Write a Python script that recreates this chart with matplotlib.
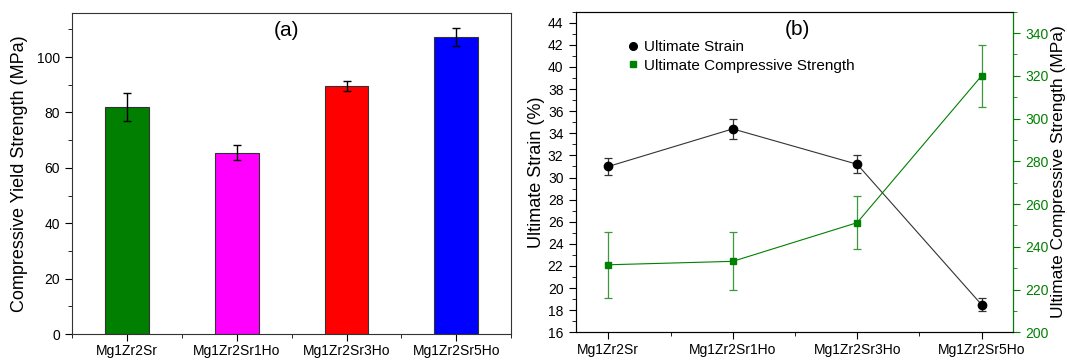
import numpy as np
import matplotlib.pyplot as plt
from matplotlib.ticker import MultipleLocator
from matplotlib.lines import Line2D

plt.rcParams['font.family'] = ['Liberation Sans', 'DejaVu Sans']

alloys = ['Mg1Zr2Sr', 'Mg1Zr2Sr1Ho', 'Mg1Zr2Sr3Ho', 'Mg1Zr2Sr5Ho']
bar_colors = ['#007f00', '#ff00ff', '#ff0000', '#0000ff']

# (a) compressive yield strength
cys = [82.0, 65.5, 89.7, 107.3]
cys_err = [5.0, 2.8, 1.8, 3.3]

# (b) ultimate strain and ultimate compressive strength
strain = [31.0, 34.4, 31.2, 18.5]
strain_err = [0.8, 0.9, 0.8, 0.6]
ucs = [231.6, 233.2, 251.3, 320.0]
ucs_err = [15.5, 13.5, 12.4, 14.5]

green = '#008000'
tick_fs = 10
label_fs = 13

fig = plt.figure(figsize=(10.67, 3.6), dpi=100)

# ---- panel (a)
ax1 = fig.add_axes([0.0678, 0.0722, 0.4112, 0.8925])
xa = np.arange(len(alloys)) + 0.5
ax1.bar(xa, cys, width=0.4, color=bar_colors, edgecolor='#333333', linewidth=0.8)
ax1.errorbar(xa, cys, yerr=cys_err, fmt='none', ecolor='black', elinewidth=1, capsize=3, capthick=1)
ax1.set_xlim(0, 4)
ax1.set_ylim(0, 116)
ax1.set_xticks(xa)
ax1.set_xticklabels(alloys)
ax1.xaxis.set_minor_locator(MultipleLocator(1))
ax1.yaxis.set_major_locator(MultipleLocator(20))
ax1.yaxis.set_minor_locator(MultipleLocator(10))
ax1.tick_params(axis='both', which='both', direction='out', labelsize=tick_fs, pad=4)
ax1.tick_params(axis='x', pad=2.5)
ax1.tick_params(which='major', length=5)
ax1.tick_params(which='minor', length=3)
ax1.set_ylabel('Compressive Yield Strength (MPa)', fontsize=label_fs, labelpad=6)
ax1.text(0.487, 0.975, '(a)', transform=ax1.transAxes, ha='center', va='top', fontsize=15)
for s in ax1.spines.values():
    s.set_color('#333333')

# ---- panel (b)
ax2 = fig.add_axes([0.5398, 0.0769, 0.4093, 0.8906])
xb = np.arange(len(alloys))
ax2.errorbar(xb, strain, yerr=strain_err, color='#333333', lw=0.8, marker='o', ms=6,
             mfc='black', mec='black', ecolor='#333333', elinewidth=0.9, capsize=2.6,
             capthick=0.9)
ax2.set_xlim(-0.26, 3.25)
ax2.set_ylim(16, 45)
ax2.set_xticks(xb)
ax2.set_xticklabels(alloys)
ax2.xaxis.set_minor_locator(MultipleLocator(0.5))
ax2.yaxis.set_major_locator(MultipleLocator(2))
ax2.yaxis.set_minor_locator(MultipleLocator(1))
ax2.tick_params(axis='both', which='both', direction='out', labelsize=tick_fs, pad=4)
ax2.tick_params(axis='x', pad=2.5)
ax2.tick_params(which='major', length=5)
ax2.tick_params(which='minor', length=3)
ax2.set_ylabel('Ultimate Strain (%)', fontsize=label_fs, labelpad=2)
ax2.text(0.506, 0.975, '(b)', transform=ax2.transAxes, ha='center', va='top', fontsize=15)
for s in ['left', 'bottom', 'top']:
    ax2.spines[s].set_color('#333333')

ax3 = ax2.twinx()
ax3.errorbar(xb, ucs, yerr=ucs_err, color=green, lw=0.8, marker='s', ms=5,
             mfc=green, mec=green, ecolor='#3a9a3a', elinewidth=0.9, capsize=2.6,
             capthick=0.9)
ax3.set_ylim(200, 350)
ax3.yaxis.set_major_locator(MultipleLocator(20))
ax3.yaxis.set_minor_locator(MultipleLocator(10))
ax3.tick_params(axis='y', which='both', direction='out', colors=green, labelsize=tick_fs, pad=4)
ax3.tick_params(which='major', length=5)
ax3.tick_params(which='minor', length=3)
ax3.spines['right'].set_color(green)
ax3.set_ylabel('Ultimate Compressive Strength (MPa)', fontsize=12.5, color='black', labelpad=2)

hs = [Line2D([], [], ls='none', marker='o', color='black', ms=5.5),
      Line2D([], [], ls='none', marker='s', color=green, ms=4.5)]
ax2.legend(hs, ['Ultimate Strain', 'Ultimate Compressive Strength'], loc='upper left',
           bbox_to_anchor=(0.105, 0.935), frameon=False, fontsize=11,
           handlelength=0.5, handletextpad=0.45, labelspacing=0.3, borderpad=0)

fig.savefig('out.png', dpi=100)
